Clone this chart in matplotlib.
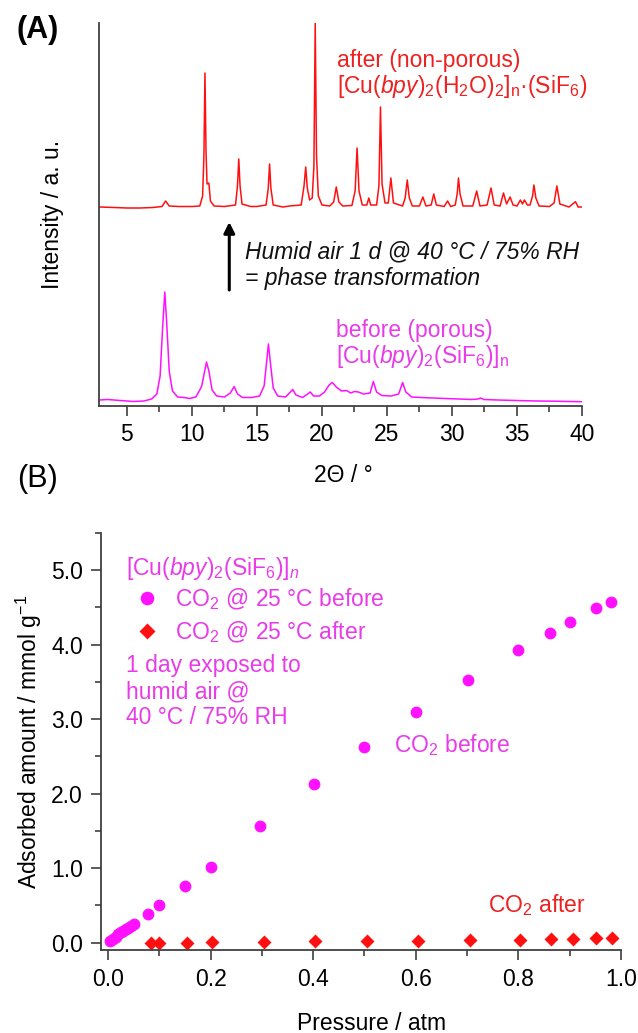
import matplotlib
matplotlib.use("Agg")
import matplotlib.pyplot as plt
from matplotlib.ticker import MultipleLocator, FormatStrFormatter

plt.rcParams['font.family'] = ['Liberation Sans', 'DejaVu Sans']
plt.rcParams['mathtext.fontset'] = 'custom'
plt.rcParams['mathtext.rm'] = 'Liberation Sans'
plt.rcParams['mathtext.it'] = 'Liberation Sans:italic'
plt.rcParams['mathtext.bf'] = 'Liberation Sans:bold'

# ---------------- data: panel A (PXRD, vertices) ----------------
after_tt = [2.9, 4.0, 5.0, 6.0, 7.0, 7.7, 7.97, 8.25, 9.0, 10.0, 10.6, 10.82, 10.92, 11.0, 11.08, 11.16,
            11.3, 11.42, 11.7, 12.5, 13.35, 13.5, 13.6, 13.7, 13.85, 14.5, 15.0, 15.7, 15.87, 15.97,
            16.07, 16.25, 17.0, 17.5, 18.4, 18.62, 18.75, 18.87, 19.05, 19.25, 19.38, 19.48, 19.58,
            19.72, 20.0, 20.6, 20.9, 21.1, 21.3, 21.6, 22.3, 22.55, 22.7, 22.85, 23.1, 23.45, 23.6,
            23.75, 24.2, 24.38, 24.5, 24.62, 24.85, 25.1, 25.3, 25.5, 26.2, 26.4, 26.56, 26.72, 26.95,
            27.5, 27.76, 28.0, 28.4, 28.6, 28.8, 29.4, 29.66, 29.9, 30.25, 30.4, 30.5, 30.62, 30.85,
            31.6, 31.9, 32.15, 32.7, 33.0, 33.25, 33.7, 33.96, 34.2, 34.47, 34.7, 35.0, 35.26, 35.42,
            35.57, 35.8, 36.0, 36.2, 36.3, 36.45, 36.7, 37.5, 37.85, 38.07, 38.3, 39.0, 39.5, 39.7, 40.0]
after_int = [199, 198.5, 198, 198, 198.5, 199.5, 205, 200, 199.5, 199.5, 200, 210, 250, 333, 255, 222,
             223, 205, 200, 199.5, 201, 220, 247, 220, 202, 199.5, 199.5, 201, 218, 242,
             218, 201, 199, 200, 201, 220, 239, 218, 206, 208, 240, 383, 250,
             210, 201, 200, 204, 219, 204, 200, 200.5, 215, 258, 215, 201, 201, 208,
             201, 201, 220, 299, 222, 203, 203, 228, 203, 200, 208, 226, 208, 200,
             200, 209, 200, 201, 212, 201, 199.5, 205, 199.5, 201, 212, 228, 212, 200,
             200, 215, 200, 201, 218, 201, 200, 213, 202, 209, 201, 200, 206, 202,
             206, 201, 201, 210, 221, 208, 200, 199.5, 203, 220, 202, 199, 204.3, 199, 199]

before_tt = [2.9, 3.5, 4.5, 5.5, 6.3, 6.9, 7.3, 7.55, 7.75, 7.91, 8.05, 8.25, 8.5, 8.9, 9.4, 9.8, 10.3,
             10.6, 10.75, 10.95, 11.12, 11.3, 11.55, 11.9, 12.5, 12.95, 13.25, 13.5, 13.9, 14.6, 15.2,
             15.55, 15.75, 15.88, 16.02, 16.25, 16.6, 17.2, 17.5, 17.75, 18.0, 18.5, 18.9, 19.1, 19.35,
             19.8, 20.2, 20.55, 20.8, 21.1, 21.5, 21.9, 22.2, 22.5, 22.8, 23.2, 23.7, 23.95, 24.2, 24.6,
             25.3, 25.9, 26.2, 26.45, 26.9, 27.6, 28.5, 29.5, 30.5, 31.5, 32.0, 32.2, 32.45, 33.5, 35.0,
             36.5, 38.0, 39.0, 40.0]
before_int = [6, 6.5, 5.5, 4.5, 5, 7, 12, 30, 80, 114, 85, 35, 15, 9, 8.5, 7.5, 9,
              16, 20, 33, 44, 35, 16, 10, 9, 13, 19.5, 12, 8.5, 8.5, 10,
              20, 45, 62, 45, 18, 10, 9, 13, 16.5, 11, 8.5, 12, 14, 10,
              10, 14, 21, 23.5, 19, 15, 15.5, 13, 14.5, 14, 12, 13, 24.5, 14, 10.5,
              10, 12, 23.5, 14, 9, 8.5, 8, 7.5, 7, 6.5, 7, 8, 6.5, 6, 5.5,
              5, 4.8, 4.5, 4.3]

# ---------------- data: panel B (CO2 isotherms) ----------------
iso_before_p = [0.005, 0.01, 0.015, 0.02, 0.025, 0.03, 0.035, 0.04, 0.045, 0.05, 0.078, 0.10, 0.15,
                0.20, 0.296, 0.402, 0.50, 0.601, 0.701, 0.80, 0.862, 0.90, 0.952, 0.98]
iso_before_q = [0.02, 0.05, 0.08, 0.11, 0.14, 0.16, 0.18, 0.20, 0.22, 0.25, 0.39, 0.50, 0.76,
                1.01, 1.56, 2.13, 2.62, 3.09, 3.53, 3.93, 4.16, 4.31, 4.49, 4.58]
iso_after_p = [0.084, 0.10, 0.154, 0.203, 0.305, 0.403, 0.504, 0.604, 0.705, 0.803, 0.864, 0.906,
               0.952, 0.983]
iso_after_q = [0.0, 0.0, 0.0, 0.005, 0.01, 0.015, 0.02, 0.025, 0.03, 0.04, 0.05, 0.05, 0.06, 0.065]

xA_ticks = [5, 10, 15, 20, 25, 30, 35, 40]
xB_ticks = [0.0, 0.2, 0.4, 0.6, 0.8, 1.0]
yB_ticks = [0.0, 1.0, 2.0, 3.0, 4.0, 5.0]

RED = '#ff1010'
MAG = '#ff10ff'
MAG_TXT = '#e83ce8'
RED_TXT = '#ee2020'
AX_COL = '#404040'
FS = 16.5

W, H = 638, 1033
fig = plt.figure(figsize=(W / 100, H / 100), dpi=100)

def box(l, r, t, b):
    return [l / W, 1 - b / H, (r - l) / W, (b - t) / H]

# ================= Panel A =================
axA = fig.add_axes(box(99, 582, 23, 406))
axA.plot(after_tt, after_int, color=RED, lw=1.1)
axA.plot(before_tt, before_int, color=MAG, lw=1.1)
axA.set_xlim(2.85, 40)
axA.set_ylim(0, 383)
for s in ['top', 'right']:
    axA.spines[s].set_visible(False)
for s in ['left', 'bottom']:
    axA.spines[s].set_color(AX_COL)
    axA.spines[s].set_linewidth(1.3)
axA.set_yticks([])
axA.set_xticks(xA_ticks)
axA.xaxis.set_minor_locator(MultipleLocator(2.5))
axA.tick_params(axis='x', which='major', length=7, width=1.2, color=AX_COL, labelsize=FS, pad=5)
axA.tick_params(axis='x', which='minor', length=4, width=1.2, color=AX_COL)
axA.set_xlabel('2Θ / °', fontsize=FS)
axA.xaxis.set_label_coords(0.505, -0.152)
axA.set_ylabel('Intensity / a. u.', fontsize=FS)
axA.yaxis.set_label_coords(-0.073, 0.5)

axA.text(21.15, 346, 'after (non-porous)', color=RED_TXT, fontsize=FS, va='center', ha='left')
axA.text(21.15, 319, r'[Cu($\it{bpy}$)$_2$(H$_2$O)$_2$]$_\mathrm{n}$·(SiF$_6$)', color=RED_TXT,
         fontsize=FS, va='center', ha='left')
axA.text(21.1, 76, 'before (porous)', color=MAG_TXT, fontsize=FS, va='center', ha='left')
axA.text(21.1, 49, r'[Cu($\it{bpy}$)$_2$(SiF$_6$)]$_\mathrm{n}$', color=MAG_TXT,
         fontsize=FS, va='center', ha='left')
axA.annotate('', xy=(12.87, 184), xytext=(12.87, 116),
             arrowprops=dict(arrowstyle='-|>', color='black', lw=2.2, mutation_scale=16,
                             shrinkA=0, shrinkB=0))
axA.text(14.05, 154, 'Humid air 1 d @ 40 °C / 75% RH', fontsize=FS, style='italic',
         va='center', ha='left', color='#111111')
axA.text(14.05, 128, '= phase transformation', fontsize=FS, style='italic',
         va='center', ha='left', color='#111111')

fig.text(17 / W, 1 - 30 / H, '(A)', fontsize=22, fontweight='bold', va='center', ha='left')
fig.text(17 / W, 1 - 479 / H, '(B)', fontsize=22, va='center', ha='left')

# ================= Panel B =================
axB = fig.add_axes(box(101, 621, 533, 950))
axB.plot(iso_before_p, iso_before_q, 'o', color=MAG, ms=8.5, mec='none', label='CO$_2$ @ 25 °C before')
axB.plot(iso_after_p, iso_after_q, 'D', color=RED, ms=7.5, mec='none', label='CO$_2$ @ 25 °C after')
axB.set_xlim(-0.0135, 1.0)
axB.set_ylim(-0.1, 5.5)
for s in ['top', 'right']:
    axB.spines[s].set_visible(False)
for s in ['left', 'bottom']:
    axB.spines[s].set_color(AX_COL)
    axB.spines[s].set_linewidth(1.3)
axB.set_xticks(xB_ticks)
axB.set_yticks(yB_ticks)
axB.xaxis.set_major_formatter(FormatStrFormatter('%.1f'))
axB.yaxis.set_major_formatter(FormatStrFormatter('%.1f'))
axB.xaxis.set_minor_locator(MultipleLocator(0.1))
axB.yaxis.set_minor_locator(MultipleLocator(0.5))
axB.tick_params(which='major', length=7, width=1.2, color=AX_COL, labelsize=FS, pad=6)
axB.tick_params(which='minor', length=4, width=1.2, color=AX_COL)
axB.set_xlabel('Pressure / atm', fontsize=FS)
axB.xaxis.set_label_coords(0.52, -0.148)
axB.set_ylabel('Adsorbed amount / mmol g$^{-1}$', fontsize=FS)
axB.yaxis.set_label_coords(-0.11, 0.5)

axB.text(0.035, 5.02, r'[Cu($\it{bpy}$)$_2$(SiF$_6$)]$_{\it{n}}$', color=MAG_TXT, fontsize=FS,
         va='center', ha='left')
leg = axB.legend(loc='upper left', bbox_to_anchor=(0.067, 0.872), frameon=False, borderpad=0,
                 borderaxespad=0, handlelength=1.0, handletextpad=0.7, labelspacing=0.3,
                 fontsize=FS, markerscale=1.15)
for t in leg.get_texts():
    t.set_color(MAG_TXT)
axB.text(0.035, 3.37, '1 day exposed to\nhumid air @\n40 °C / 75% RH', color=MAG_TXT,
         fontsize=FS, va='center', ha='left', linespacing=1.15)
axB.text(0.557, 2.65, 'CO$_2$ before', color=MAG_TXT, fontsize=FS, va='center', ha='left')
axB.text(0.74, 0.51, 'CO$_2$ after', color=RED_TXT, fontsize=FS, va='center', ha='left')

fig.savefig('out.png', dpi=100)
